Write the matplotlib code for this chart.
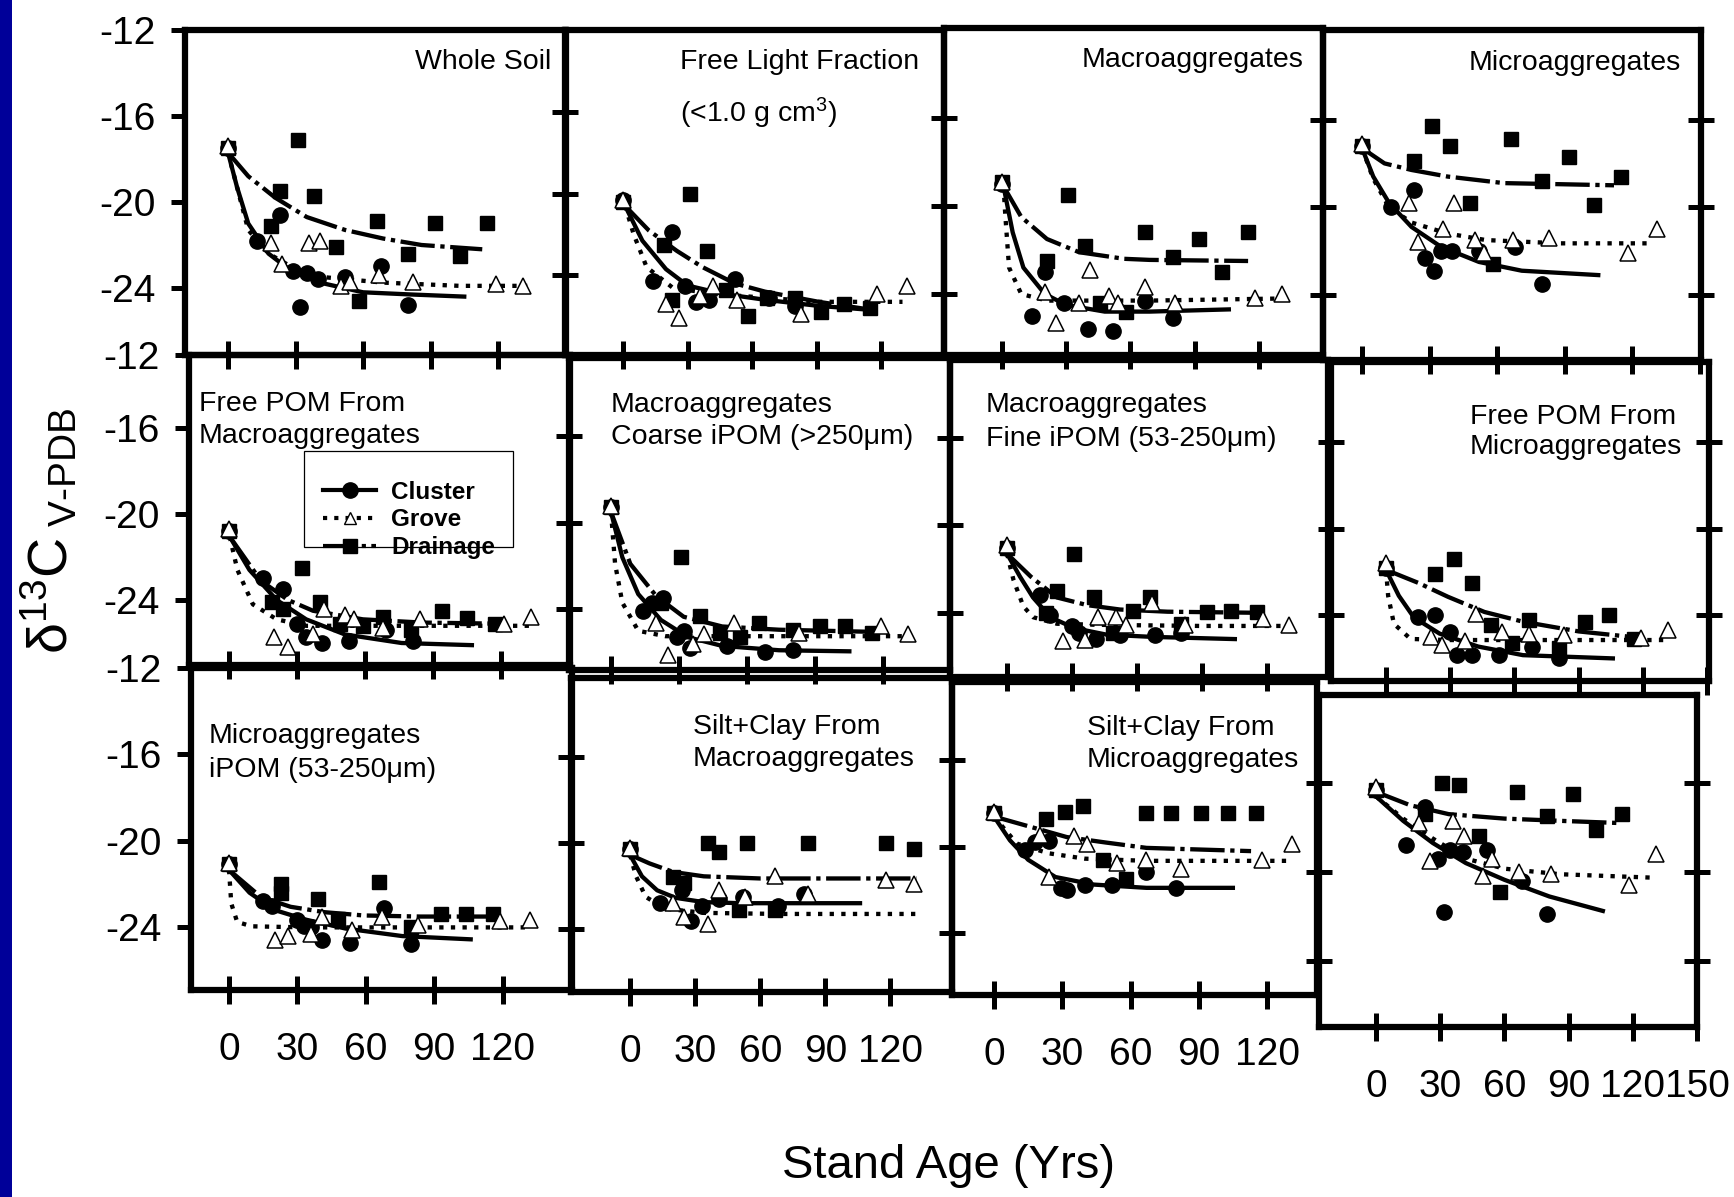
import matplotlib
matplotlib.use("Agg")
import matplotlib.pyplot as plt
from matplotlib.lines import Line2D
from matplotlib.patches import Rectangle

plt.rcParams["font.family"] = ["Liberation Sans", "DejaVu Sans"]
plt.rcParams["mathtext.fontset"] = "custom"
plt.rcParams["mathtext.rm"] = "Liberation Sans"
plt.rcParams["mathtext.it"] = "Liberation Sans:italic"
plt.rcParams["mathtext.bf"] = "Liberation Sans:bold"

W, H = 1734, 1197

# (stand age in yrs, delta 13C)
# cl = Cluster, gr = Grove, dr = Drainage, *_fit = fitted curve

# Whole Soil
ws_cl = [(0, -17.5), (13, -21.8), (23, -20.6), (29, -23.2), (35, -23.3), (40, -23.6), (32, -24.9), (52, -23.5), (68, -23.0), (80, -24.8)]
ws_gr = [(0, -17.4), (19, -21.9), (24, -22.9), (36, -21.9), (41, -21.8), (50, -23.9), (54, -23.7), (67, -23.4), (82, -23.7), (119, -23.8), (131, -23.9)]
ws_dr = [(0, -17.5), (31, -17.1), (23, -19.5), (38, -19.7), (19, -21.1), (48, -22.1), (66, -20.9), (80, -22.4), (92, -21.0), (103, -22.5), (115, -21.0), (58, -24.6)]
ws_cl_fit = [(0, -17.7), (4, -19.3), (9, -21.0), (18, -22.4), (28, -23.2), (43, -23.8), (60, -24.2), (81, -24.3), (105, -24.4)]
ws_gr_fit = [(0, -17.7), (9, -21.3), (18, -22.4), (28, -23.0), (43, -23.5), (69, -23.75), (103, -23.9), (133, -23.9)]
ws_dr_fit = [(0, -17.7), (9, -18.8), (21, -19.8), (35, -20.7), (52, -21.3), (69, -21.7), (86, -22.0), (113, -22.2)]

# Free Light Fraction
flf_cl = [(0, -20.3), (23, -21.9), (14, -24.3), (29, -24.5), (34, -25.3), (40, -25.2), (52, -24.2), (68, -25.1), (80, -25.5)]
flf_gr = [(0, -20.3), (20, -25.4), (26, -26.1), (36, -25.0), (42, -24.5), (53, -25.2), (83, -25.9), (118, -24.9), (132, -24.5)]
flf_dr = [(0, -20.4), (31, -20.0), (19, -22.5), (39, -22.8), (48, -24.7), (58, -26.0), (67, -25.1), (80, -25.1), (92, -25.8), (103, -25.4), (115, -25.6), (23, -25.2)]
flf_cl_fit = [(1, -20.6), (9, -22.3), (20, -23.7), (30, -24.5), (46, -24.9), (66, -25.2), (91, -25.5), (116, -25.7)]
flf_gr_fit = [(1, -20.6), (5, -22.0), (11, -23.6), (23, -24.6), (41, -24.9), (66, -25.1), (91, -25.3), (130, -25.3)]
flf_dr_fit = [(1, -20.6), (12, -21.8), (25, -22.8), (37, -23.6), (52, -24.4), (66, -24.8), (91, -25.3), (116, -25.7)]

# Macroaggregates
mac_cl = [(0, -19.0), (14, -25.0), (20, -23.0), (29, -24.4), (40, -25.6), (52, -25.7), (67, -24.3), (80, -25.1)]
mac_gr = [(0, -18.9), (20, -23.9), (25, -25.3), (36, -24.4), (41, -22.9), (50, -24.1), (54, -24.4), (67, -23.7), (81, -24.4), (118, -24.2), (131, -24.0)]
mac_dr = [(0, -18.9), (31, -19.5), (39, -21.8), (21, -22.5), (67, -21.2), (92, -21.5), (80, -22.3), (115, -21.2), (103, -23.0), (46, -24.4), (58, -24.8)]
mac_cl_fit = [(0.7, -19.1), (5, -21.2), (10, -22.8), (20, -24.0), (30, -24.5), (48, -24.8), (69, -24.8), (106, -24.7)]
mac_gr_fit = [(0.7, -19.1), (1.6, -20.5), (3.3, -22.8), (9, -24.0), (21, -24.3), (69, -24.3), (134, -24.2)]
mac_dr_fit = [(0.7, -19.1), (9, -20.5), (21, -21.5), (36, -22.1), (57, -22.4), (69, -22.45), (115, -22.5)]

# Microaggregates
mic_cl = [(0, -17.2), (13, -20.0), (23, -19.2), (28, -22.3), (32, -22.9), (35, -22.0), (40, -22.0), (52, -22.0), (68, -21.8), (80, -23.5)]
mic_gr = [(0, -17.1), (21, -19.8), (25, -21.6), (36, -21.0), (41, -19.8), (50, -21.5), (54, -22.1), (67, -21.5), (83, -21.4), (118, -22.1), (131, -21.0)]
mic_dr = [(0, -17.2), (31, -16.3), (39, -17.2), (23, -17.9), (66, -16.9), (92, -17.7), (80, -18.8), (115, -18.6), (103, -19.9), (48, -19.8), (58, -22.6)]
mic_cl_fit = [(0, -17.3), (5, -18.6), (12, -19.8), (22, -20.9), (35, -21.8), (52, -22.5), (71, -22.9), (105, -23.1)]
mic_gr_fit = [(0, -17.3), (5, -18.7), (12, -20.0), (22, -20.7), (38, -21.2), (55, -21.5), (88, -21.65), (129, -21.65)]
mic_dr_fit = [(0, -17.3), (10, -18.0), (22, -18.3), (38, -18.6), (63, -18.9), (88, -18.95), (112, -19.0)]

# Free POM from macroaggregates
fpma_cl = [(0, -20.8), (15, -23.0), (24, -23.5), (30, -25.1), (34, -25.7), (41, -26.0), (53, -25.9), (69, -25.4), (81, -25.9)]
fpma_gr = [(0, -20.7), (20, -25.7), (26, -26.2), (37, -25.6), (42, -24.4), (51, -24.7), (55, -24.9), (68, -25.3), (84, -24.9), (121, -25.1), (133, -24.8)]
fpma_dr = [(0, -20.8), (32, -22.5), (19, -24.1), (24, -24.4), (40, -24.1), (49, -25.1), (59, -25.2), (68, -24.8), (80, -25.4), (94, -24.5), (105, -24.85), (117, -25.1)]
fpma_cl_fit = [(0.3, -21.05), (9, -22.6), (21, -24.0), (34, -24.9), (51, -25.6), (76, -26.0), (107, -26.1)]
fpma_gr_fit = [(0.3, -21.05), (3.7, -22.6), (10.5, -24.2), (21, -24.9), (34, -25.2), (68, -25.2), (133, -25.2)]
fpma_dr_fit = [(0.3, -21.05), (14, -23.1), (26, -24.0), (37, -24.5), (59, -24.9), (85, -25.05), (118, -25.1)]

# Macroaggregates coarse iPOM
cip_cl = [(0, -19.25), (14, -24.1), (18, -23.7), (23, -23.5), (29, -25.3), (32, -25.0), (35, -25.8), (51, -25.7), (68, -26.0), (80, -25.9)]
cip_gr = [(0, -19.2), (20, -24.65), (25, -26.1), (36, -25.6), (41, -25.15), (54, -24.65), (83, -25.1), (119, -24.8), (131, -25.15)]
cip_dr = [(0, -19.25), (31, -21.6), (22, -23.7), (39, -24.3), (48, -25.1), (57, -25.3), (65, -24.65), (80, -24.95), (92, -24.8), (103, -24.8), (115, -25.1)]
cip_cl_fit = [(0, -19.5), (5, -21.6), (12, -23.3), (22, -24.5), (34, -25.3), (49, -25.7), (74, -25.9), (105, -25.95)]
cip_gr_fit = [(0, -19.5), (1.8, -21.9), (5, -23.7), (12, -25.0), (24, -25.25), (74, -25.25), (131, -25.25)]
cip_dr_fit = [(0, -19.5), (8.5, -21.9), (20, -23.4), (32, -24.35), (49, -24.8), (74, -24.95), (116, -25.05)]

# Macroaggregates fine iPOM
fip_cl = [(0, -21.06), (15, -23.2), (20, -24.1), (30, -24.6), (33, -24.9), (41, -25.2), (52, -25.0), (68, -25.0), (80, -24.9)]
fip_gr = [(0, -20.9), (26, -25.3), (36, -25.25), (42, -24.2), (50, -24.2), (55, -24.55), (67, -23.55), (82, -24.55), (118, -24.3), (130, -24.55)]
fip_dr = [(0, -21.06), (31, -21.3), (23, -23.0), (40, -23.3), (18, -24.0), (58, -23.9), (66, -23.3), (80, -24.5), (92, -23.95), (103, -23.9), (115, -23.95), (49, -24.9)]
fip_cl_fit = [(0, -21.3), (6, -22.35), (12, -23.3), (20, -24.2), (31, -24.7), (46, -25.0), (67, -25.1), (105, -25.2)]
fip_gr_fit = [(0, -21.3), (3, -22.5), (7.5, -23.7), (12, -24.2), (23, -24.5), (43, -24.55), (89, -24.6), (130, -24.6)]
fip_dr_fit = [(0, -21.3), (11, -22.35), (23, -23.3), (37, -23.65), (52, -23.85), (74, -23.95), (116, -24.0)]

# Free POM from microaggregates
fpmi_cl = [(0, -21.8), (15, -24.1), (23, -24.0), (30, -24.8), (33, -25.85), (40, -25.85), (53, -25.85), (68, -25.45), (81, -26.0)]
fpmi_gr = [(0, -21.6), (21, -25.0), (26, -25.4), (37, -25.2), (42, -23.95), (54, -24.8), (67, -24.85), (83, -24.9), (119, -25.05), (132, -24.7)]
fpmi_dr = [(0, -21.8), (23, -22.1), (32, -21.4), (40, -22.5), (49, -24.45), (59, -25.3), (67, -24.2), (81, -25.5), (93, -24.3), (104, -24.0), (116, -25.1)]
fpmi_cl_fit = [(0, -21.9), (6, -23.1), (13, -24.1), (25, -24.85), (43, -25.45), (64, -25.85), (106, -26.0)]
fpmi_gr_fit = [(0, -21.9), (1, -23.1), (3.7, -24.4), (11.5, -25.1), (29, -25.15), (81, -25.15), (131, -25.15)]
fpmi_dr_fit = [(0, -21.9), (15, -22.5), (29, -23.15), (46, -23.85), (64, -24.3), (90, -24.75), (119, -25.05)]

# Microaggregates iPOM
mip_cl = [(0, -21.1), (15, -22.8), (19, -23.0), (30, -23.65), (33, -23.95), (36, -24.0), (41, -24.6), (53, -24.7), (68, -23.1), (80, -24.75)]
mip_gr = [(0, -21.05), (20, -24.6), (26, -24.4), (36, -24.3), (41, -23.5), (54, -24.1), (67, -23.5), (83, -23.9), (119, -23.7), (132, -23.65)]
mip_dr = [(0, -21.1), (23, -22.0), (23, -22.4), (39, -22.7), (48, -23.6), (66, -21.9), (80, -24.0), (93, -23.4), (104, -23.4), (116, -23.4)]
mip_cl_fit = [(0, -21.35), (9, -22.4), (20, -23.2), (34, -23.65), (51, -24.05), (76, -24.4), (106, -24.55)]
mip_gr_fit = [(0, -21.35), (1, -22.9), (3.6, -23.75), (10, -23.95), (34, -24.0), (84, -24.0), (131, -24.0)]
mip_dr_fit = [(0, -21.35), (14, -22.6), (27, -23.05), (42, -23.3), (59, -23.45), (84, -23.5), (117, -23.5)]

# Silt+clay from macroaggregates
scma_cl = [(0, -20.3), (14, -22.8), (24, -22.2), (28, -23.65), (33, -22.95), (41, -22.6), (52, -22.5), (68, -22.95), (80, -22.35)]
scma_gr = [(0, -20.25), (20, -22.8), (25, -23.45), (36, -23.75), (41, -22.2), (53, -22.5), (67, -21.55), (82, -22.35), (118, -21.7), (131, -21.9)]
scma_dr = [(0, -20.3), (36, -20.0), (41, -20.4), (54, -20.0), (82, -20.0), (118, -20.0), (131, -20.3), (20, -21.6), (25, -21.85), (50, -23.1), (67, -23.1)]
scma_cl_fit = [(0, -20.55), (5.5, -21.55), (12.5, -22.2), (21, -22.55), (34, -22.75), (51, -22.8), (106, -22.8)]
scma_gr_fit = [(0, -20.55), (2.8, -21.55), (7.2, -22.5), (16, -23.05), (34, -23.25), (69, -23.3), (132, -23.3)]
scma_dr_fit = [(0, -20.55), (9, -20.95), (20, -21.35), (34, -21.55), (60, -21.65), (95, -21.65), (132, -21.65)]

# Silt+clay from microaggregates
scmi_cl = [(0, -18.45), (13.5, -20.15), (18, -19.8), (24, -19.75), (29.5, -21.9), (32, -22.0), (40, -21.75), (52, -21.75), (67, -21.15), (80, -21.9)]
scmi_gr = [(0, -18.4), (20, -19.45), (24, -21.4), (35, -19.5), (41, -19.85), (54, -20.75), (67, -20.6), (82, -21.05), (118, -20.6), (131, -19.85)]
scmi_dr = [(0, -18.45), (23, -18.7), (31, -18.4), (39, -18.1), (67, -18.45), (78, -18.45), (91, -18.45), (103, -18.45), (115, -18.45), (48, -20.6), (58, -21.5)]
scmi_cl_fit = [(0, -18.6), (7, -19.7), (15, -20.6), (27, -21.4), (44, -21.75), (67, -21.9), (105, -21.9)]
scmi_gr_fit = [(0, -18.6), (10, -19.85), (24, -20.3), (40, -20.55), (67, -20.65), (129, -20.65)]
scmi_dr_fit = [(0, -18.6), (13.5, -19.0), (32, -19.55), (49, -19.8), (67, -20.05), (113, -20.2)]

# last panel (no title)
last_cl = [(0, -16.3), (14, -18.8), (23, -17.1), (29, -19.4), (34.5, -19.0), (40.6, -19.1), (52, -19.0), (68, -20.4), (32, -21.8), (80, -21.9)]
last_gr = [(0, -16.2), (20, -17.8), (25, -19.5), (36, -17.7), (41, -18.4), (50, -20.2), (54, -19.4), (67, -20.0), (82, -20.1), (118, -20.6), (131, -19.2)]
last_dr = [(0, -16.3), (31, -16.0), (39, -16.1), (23, -17.4), (66, -16.4), (80, -17.5), (92, -16.5), (103, -18.1), (115, -17.4), (48, -18.4), (58, -20.9)]
last_cl_fit = [(0, -16.6), (12.7, -17.7), (26.6, -18.7), (42, -19.6), (60, -20.35), (81, -21.1), (106, -21.75)]
last_gr_fit = [(0, -16.6), (12.7, -17.6), (26.6, -18.5), (42, -19.4), (60, -19.85), (86, -20.1), (128, -20.25)]
last_dr_fit = [(0, -16.4), (16, -17.0), (34, -17.4), (60, -17.6), (86, -17.7), (114, -17.8)]

titles = [
    "Whole Soil", "Free Light Fraction\n(<1.0 g cm$^{3}$)", "Macroaggregates", "Microaggregates",
    "Free POM From\nMacroaggregates", "Macroaggregates\nCoarse iPOM (>250\u03bcm)",
    "Macroaggregates\nFine iPOM (53-250\u03bcm)", "Free POM From\nMicroaggregates",
    "Microaggregates\niPOM (53-250\u03bcm)", "Silt+Clay From\nMacroaggregates",
    "Silt+Clay From\nMicroaggregates", "",
]
series = [
    (ws_cl, ws_gr, ws_dr, ws_cl_fit, ws_gr_fit, ws_dr_fit),
    (flf_cl, flf_gr, flf_dr, flf_cl_fit, flf_gr_fit, flf_dr_fit),
    (mac_cl, mac_gr, mac_dr, mac_cl_fit, mac_gr_fit, mac_dr_fit),
    (mic_cl, mic_gr, mic_dr, mic_cl_fit, mic_gr_fit, mic_dr_fit),
    (fpma_cl, fpma_gr, fpma_dr, fpma_cl_fit, fpma_gr_fit, fpma_dr_fit),
    (cip_cl, cip_gr, cip_dr, cip_cl_fit, cip_gr_fit, cip_dr_fit),
    (fip_cl, fip_gr, fip_dr, fip_cl_fit, fip_gr_fit, fip_dr_fit),
    (fpmi_cl, fpmi_gr, fpmi_dr, fpmi_cl_fit, fpmi_gr_fit, fpmi_dr_fit),
    (mip_cl, mip_gr, mip_dr, mip_cl_fit, mip_gr_fit, mip_dr_fit),
    (scma_cl, scma_gr, scma_dr, scma_cl_fit, scma_gr_fit, scma_dr_fit),
    (scmi_cl, scmi_gr, scmi_dr, scmi_cl_fit, scmi_gr_fit, scmi_dr_fit),
    (last_cl, last_gr, last_dr, last_cl_fit, last_gr_fit, last_dr_fit),
]

# layout in pixels: panel box (left, top, right, bottom), pixel of age 0, px per yr,
# pixel of -12, px per permil  -- the original panels are pasted together a bit unevenly
boxes = [
    (185, 30, 566, 355, 228, 2.25, 30, 21.5), (565, 30, 944, 355, 623, 2.15, 30.5, 20.4),
    (944, 28, 1323, 355, 1002, 2.14, 30, 22.0), (1323, 30, 1701, 360, 1362, 2.25, 32, 21.9),
    (189, 355, 570, 665, 229, 2.27, 342, 21.5), (569, 358, 950, 670, 611, 2.27, 350, 21.6),
    (950, 360, 1328, 677, 1007, 2.17, 350, 21.9), (1331, 362, 1709, 681, 1386, 2.14, 356, 21.6),
    (191, 668, 572, 990, 229, 2.28, 667, 21.7), (571, 678, 952, 992, 630, 2.17, 671, 21.5),
    (952, 682, 1317, 995, 994, 2.275, 674, 21.6), (1319, 695, 1697, 1027, 1376, 2.14, 694, 22.25),
]
title_pos = [
    (551, 62, "right", 1.3), (680, 90, "left", 1.75), (1303, 60, "right", 1.3), (1681, 63, "right", 1.3),
    (199, 420, "left", 1.3), (611, 421, "left", 1.3), (986, 422, "left", 1.4), (1470, 432, "left", 1.25),
    (209, 753, "left", 1.4), (693, 743, "left", 1.3), (1087, 744, "left", 1.3), (0, 0, "left", 1.0),
]

DOT = (0, (1, 1.7))
DASHDOT = (0, (8, 1.3, 1, 1.3))

fig = plt.figure(figsize=(W / 100, H / 100), dpi=100)
fig.add_artist(Rectangle((0, 0), 12 / W, 1, transform=fig.transFigure, color="#000099", lw=0))

for i, (data, box) in enumerate(zip(series, boxes)):
    L, T, R, B, x0, xs, y12, ys = box
    row, col = divmod(i, 4)
    ax = fig.add_axes([L / W, 1 - B / H, (R - L) / W, (B - T) / H])
    ax.patch.set_visible(False)
    top = -12 - (T - y12) / ys
    ax.set_xlim((L - x0) / xs, (R - x0) / xs)
    ax.set_ylim(-12 - (B - y12) / ys, top)
    for sp in ax.spines.values():
        sp.set_linewidth(4.5)

    cl, gr, dr, cl_fit, gr_fit, dr_fit = data
    for fit, ls in ((cl_fit, "-"), (gr_fit, DOT), (dr_fit, DASHDOT)):
        ax.plot([p[0] for p in fit], [p[1] for p in fit], color="k", lw=3.1, ls=ls)
    ax.plot([p[0] for p in dr], [p[1] for p in dr], ls="none", marker="s", ms=10.5, mfc="k", mec="k")
    ax.plot([p[0] for p in cl], [p[1] for p in cl], ls="none", marker="o", ms=11, mfc="k", mec="k")
    ax.plot([p[0] for p in gr], [p[1] for p in gr], ls="none", marker="^", ms=11, mfc="white", mec="k", mew=1.1)

    xticks = [0, 30, 60, 90, 120] + ([150] if col == 3 else [])
    ax.set_xticks(xticks)
    ax.tick_params(axis="x", direction="inout", length=20, width=3.6, pad=20,
                   labelsize=28, labelbottom=(row == 2))
    if col == 0:
        ax.set_yticks([top, -16, -20, -24], labels=["-12", "-16", "-20", "-24"])
        ax.tick_params(axis="y", direction="out", length=10, width=3.6, pad=11, labelsize=28)
    else:
        ax.set_yticks([-16, -20, -24])
        ax.tick_params(axis="y", direction="inout", length=19, width=3.6,
                       labelleft=False, right=(col == 3))

    tx, ty, ha, lsp = title_pos[i]
    if titles[i]:
        fig.text(tx / W, 1 - ty / H, titles[i], ha=ha, va="center", ma="left",
                 fontsize=20.5, linespacing=lsp)

# legend sits in the free POM from macroaggregates panel
handles = [
    Line2D([], [], color="k", lw=3, ls="-", marker="o", ms=11, mfc="k"),
    Line2D([], [], color="k", lw=3, ls=DOT, marker="^", ms=9, mfc="white", mew=1),
    Line2D([], [], color="k", lw=3, ls=DASHDOT, marker="s", ms=10, mfc="k"),
]
fig.legend(handles, ["Cluster", "Grove", "Drainage"], loc="center left",
           bbox_to_anchor=(323 / W, 1 - 520 / H), frameon=False,
           prop=dict(weight="bold", size=17.5), handlelength=2.2, handletextpad=0.6,
           labelspacing=0.2, borderpad=0, borderaxespad=0, numpoints=1)
fig.add_artist(Rectangle((304 / W, 1 - 547 / H), 209 / W, 96 / H, transform=fig.transFigure,
                         fill=False, ec="k", lw=0.9))

fig.text(949 / W, 1 - 1166 / H, "Stand Age (Yrs)", ha="center", va="center", fontsize=34)
fig.text(50 / W, 1 - 531 / H, "\u03b4$^{13}$C$_{\\ \\mathrm{V\\text{-}PDB}}$", rotation=90,
         ha="center", va="center", fontsize=40)

fig.savefig("out.png", dpi=100)
